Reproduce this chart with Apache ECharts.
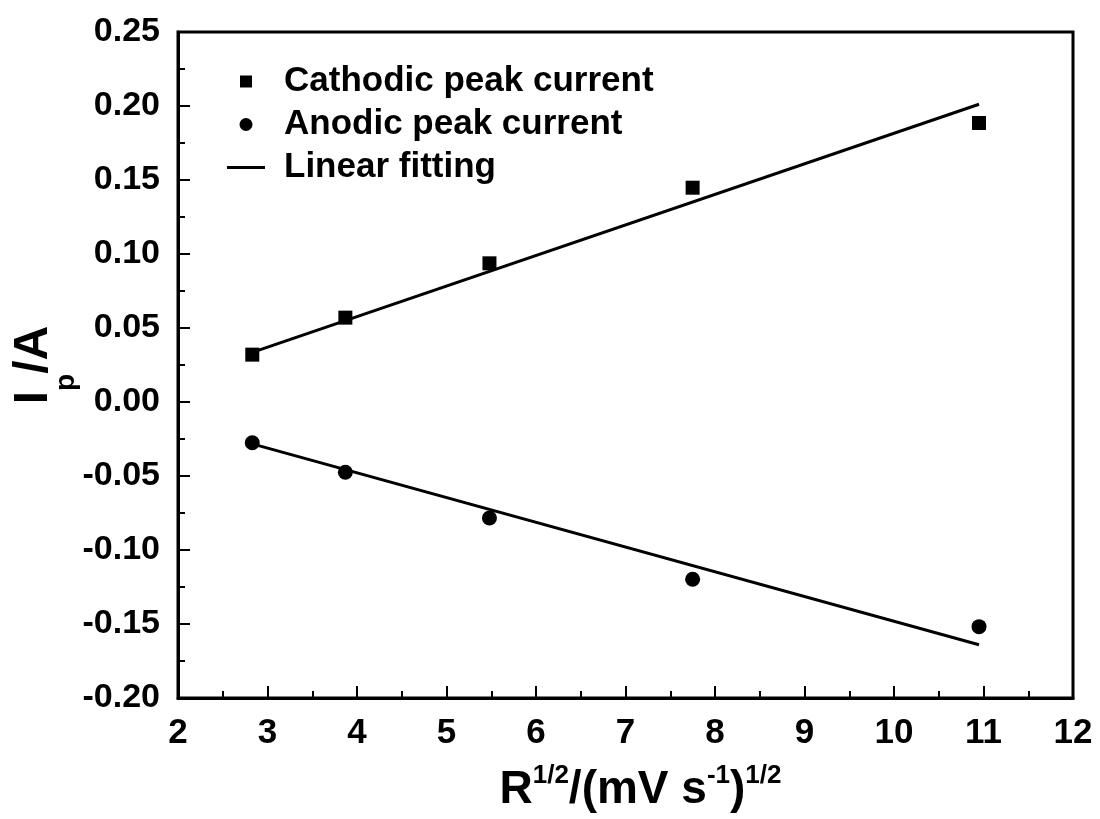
<!DOCTYPE html>
<html>
<head>
<meta charset="utf-8">
<script src="https://cdn.jsdelivr.net/npm/echarts@6/dist/echarts.min.js"></script>
<style>
	html, body { margin: 0; padding: 0; background: #fff; }
	#main { width: 1100px; height: 819px; }
</style>
</head>
<body>
<div id="main"></div>
<script>
// square root of scan rate, (mV s-1)^1/2
var rootRate = [2.83, 3.87, 5.48, 7.75, 10.95];
var cathodicPeak = [0.032, 0.057, 0.0937, 0.1448, 0.1885];
var anodicPeak = [-0.0275, -0.0475, -0.0784, -0.1198, -0.1518];
// end points of the fitted lines
var fitX = [2.83, 10.95];
var cathodicFit = [0.0335, 0.2012];
var anodicFit = [-0.0283, -0.164];

var fontName = '"Liberation Sans", Arial, sans-serif';

function pairs(xs, ys) {
	var out = [];
	for (var i = 0; i < xs.length; i++) {
		out.push([xs[i], ys[i]]);
	}
	return out;
}

var myChart = echarts.init(document.getElementById('main'));
var option = {
	backgroundColor: '#fff',
	animation: false,
	grid: {
		left: 178,
		right: 27,
		top: 32,
		bottom: 121,
		outerBoundsMode: 'none',
		show: true,
		borderColor: '#000',
		borderWidth: 3
	},
	legend: {
		orient: 'vertical',
		left: 222,
		top: 59,
		itemWidth: 38,
		itemHeight: 13,
		itemGap: 8,
		textStyle: {
			fontFamily: fontName,
			fontWeight: 'bold',
			fontSize: 35,
			color: '#000',
			padding: [0, 0, 0, 14]
		},
		data: [
			{ name: 'Cathodic peak current', icon: 'path://M0,0M38,13M13,0.5L25,0.5L25,12.5L13,12.5Z' },
			{ name: 'Anodic peak current', icon: 'circle' },
			{ name: 'Linear fitting', icon: 'path://M0,0M38,13M0,5L38,5L38,8L0,8Z' }
		]
	},
	xAxis: {
		type: 'value',
		min: 2,
		max: 12,
		interval: 1,
		splitLine: { show: false },
		axisLine: { onZero: false, lineStyle: { color: '#000', width: 3 } },
		axisTick: { inside: true, length: 12, lineStyle: { color: '#000', width: 2 } },
		minorTick: { show: true, splitNumber: 2, length: 7, lineStyle: { color: '#000', width: 2 } },
		axisLabel: {
			margin: 18,
			color: '#000',
			fontFamily: fontName,
			fontWeight: 'bold',
			fontSize: 35
		},
		name: '{b|R}{s|1/2}{b|/(mV s}{s|-1}{b|)}{s|1/2}',
		nameLocation: 'middle',
		nameGap: 65,
		nameMoveOverlap: false,
		nameTextStyle: {
			color: '#000',
			padding: [0, 0, 0, 30],
			rich: {
				b: { fontFamily: fontName, fontWeight: 'bold', fontSize: 46, lineHeight: 50, verticalAlign: 'bottom', color: '#000' },
				s: { fontFamily: fontName, fontWeight: 'bold', fontSize: 26, lineHeight: 26, verticalAlign: 'top', color: '#000' }
			}
		}
	},
	yAxis: {
		type: 'value',
		min: -0.2,
		max: 0.25,
		interval: 0.05,
		splitLine: { show: false },
		axisLine: { onZero: false, lineStyle: { color: '#000', width: 3 } },
		axisTick: { inside: true, length: 12, lineStyle: { color: '#000', width: 2 } },
		minorTick: { show: true, splitNumber: 2, length: 7, lineStyle: { color: '#000', width: 2 } },
		axisLabel: {
			margin: 18,
			color: '#000',
			fontFamily: fontName,
			fontWeight: 'bold',
			fontSize: 34,
			formatter: function(v) {
				return v.toFixed(2);
			}
		},
		name: '{b|I}{sub|p}{b|/A}',
		nameLocation: 'middle',
		nameRotate: 90,
		nameGap: 98,
		nameMoveOverlap: false,
		nameTextStyle: {
			color: '#000',
			rich: {
				b: { fontFamily: fontName, fontWeight: 'bold', fontSize: 48, lineHeight: 70, verticalAlign: 'top', color: '#000' },
				sub: { fontFamily: fontName, fontWeight: 'bold', fontSize: 28, lineHeight: 28, verticalAlign: 'bottom', color: '#000' }
			}
		}
	},
	series: [
		{
			name: 'Cathodic peak current',
			type: 'scatter',
			symbol: 'rect',
			symbolSize: 14,
			itemStyle: { color: '#000', opacity: 1 },
			data: pairs(rootRate, cathodicPeak),
			z: 3
		},
		{
			name: 'Anodic peak current',
			type: 'scatter',
			symbol: 'circle',
			symbolSize: 15,
			itemStyle: { color: '#000', opacity: 1 },
			data: pairs(rootRate, anodicPeak),
			z: 3
		},
		{
			name: 'Linear fitting',
			type: 'line',
			symbol: 'none',
			itemStyle: { color: '#000' },
			lineStyle: { color: '#000', width: 3 },
			data: pairs(fitX, cathodicFit),
			z: 2
		},
		{
			name: 'Linear fitting',
			type: 'line',
			symbol: 'none',
			itemStyle: { color: '#000' },
			lineStyle: { color: '#000', width: 3 },
			data: pairs(fitX, anodicFit),
			z: 2
		}
	]
};
myChart.setOption(option);
</script>
</body>
</html>
